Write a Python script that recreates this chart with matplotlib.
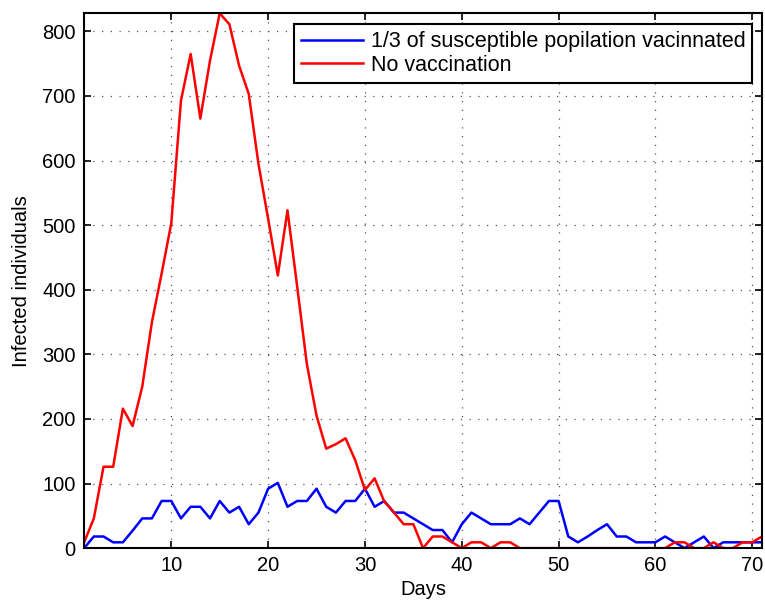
import matplotlib.pyplot as plt
import numpy as np

plt.rcParams['font.family'] = ['Liberation Sans', 'DejaVu Sans']

# Data
days = list(range(1, 72))
vaccinated = [0, 18, 18, 9, 9, 27, 46, 46, 73, 73,
              46, 64, 64, 46, 73, 55, 64, 37, 55, 92,
              101, 64, 73, 73, 92, 64, 55, 73, 73, 92,
              64, 73, 55, 55, 46, 37, 28, 28, 9, 37,
              55, 46, 37, 37, 37, 46, 37, 55, 73, 73,
              18, 9, 18, 28, 37, 18, 18, 9, 9, 9,
              18, 9, 0, 9, 18, 0, 9, 9, 9, 9, 9]
no_vaccination = [9, 46, 126, 126, 216, 189, 250, 350, 425, 503,
                  693, 765, 665, 755, 828, 811, 747, 703, 595, 510,
                  422, 523, 405, 285, 205, 154, 161, 170, 136, 90,
                  108, 72, 55, 37, 37, 0, 18, 18, 9, 0,
                  9, 9, 0, 9, 9, 0, 0, 0, 0, 0,
                  0, 0, 0, 0, 0, 0, 0, 0, 0, 0,
                  0, 9, 9, 0, 0, 9, 0, 0, 9, 9, 18]
xticks = [10, 20, 30, 40, 50, 60, 70]
yticks = [0, 100, 200, 300, 400, 500, 600, 700, 800]

fig = plt.figure(figsize=(7.65, 6.03), dpi=100)
ax = fig.add_axes([0.110, 0.091, 0.886, 0.887])

ax.plot(days, vaccinated, color='#0000ff', lw=1.8, label='1/3 of susceptible popilation vacinnated')
ax.plot(days, no_vaccination, color='#ff0000', lw=1.8, label='No vaccination')

ax.set_xlim(1, 71)
ax.set_ylim(0, 828)
ax.set_xticks(xticks)
ax.set_yticks(yticks)
ax.tick_params(direction='in', top=True, right=True, length=5, width=1.2, labelsize=14.5)
ax.tick_params(axis='y', pad=6)
ax.tick_params(axis='x', pad=6)
ax.grid(True, linestyle=(0, (1, 6)), color='#555555', linewidth=0.9)
for s in ax.spines.values():
    s.set_linewidth(1.5)

ax.set_xlabel('Days', fontsize=14.5, labelpad=3)
ax.set_ylabel('Infected individuals', fontsize=14.5, labelpad=8)

leg = ax.legend(loc='upper right', bbox_to_anchor=(0.986, 0.979), fontsize=15.5,
                fancybox=False, framealpha=1, edgecolor='black',
                handlelength=2.9, handletextpad=0.35, borderpad=0.32,
                labelspacing=0.12, borderaxespad=0)
leg.get_frame().set_linewidth(1.5)

fig.savefig('out.png', dpi=100)
